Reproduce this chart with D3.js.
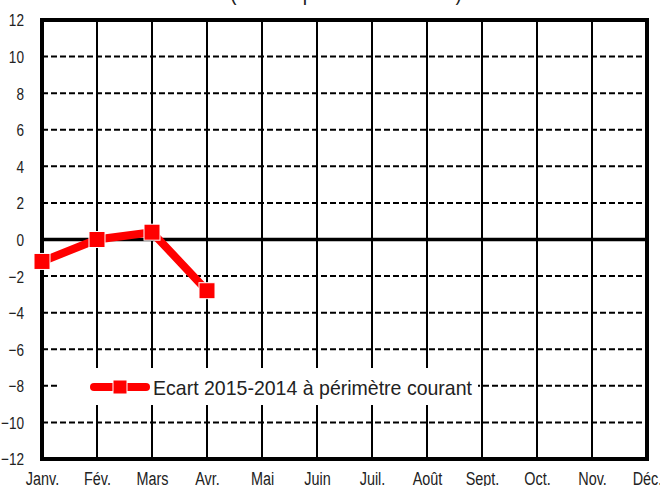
<!DOCTYPE html>
<html><head><meta charset="utf-8">
<script src="https://cdn.jsdelivr.net/npm/d3@7"></script>
<style>
html,body{margin:0;padding:0;background:#fff;overflow:hidden}
svg{display:block}
text{font-family:"Liberation Sans","Arial",sans-serif}
</style></head>
<body><div id="chart"></div>
<script>
const months = ["Janv.","Fév.","Mars","Avr.","Mai","Juin","Juil.","Août","Sept.","Oct.","Nov.","Déc."];
const ecart = [-1.2, 0.0, 0.4, -2.8];
const yTicks = [-12,-10,-8,-6,-4,-2,0,2,4,6,8,10,12];
const seriesName = "Ecart 2015-2014 à périmètre courant";
const titleText = "(en % à périmètre courant)";

const W = 660, H = 486;
const L = 42, R = 647, T = 20, B = 459;
const svg = d3.select("#chart").append("svg").attr("width", W).attr("height", H);

const x = d3.scalePoint().domain(months).range([L, R]);
const y = d3.scaleLinear().domain([-12, 12]).range([B, T]);

function narrow(sel, f) {
  sel.each(function () {
    const len = this.getComputedTextLength();
    d3.select(this).attr("textLength", len * f).attr("lengthAdjust", "spacingAndGlyphs");
  });
}

// clipped title
svg.append("text").attr("x", 230).attr("y", -0.5)
  .attr("font-size", 22).attr("fill", "#222")
  .attr("textLength", 232).attr("lengthAdjust", "spacingAndGlyphs")
  .text(titleText);

// horizontal dashed grid
svg.append("g").selectAll("line").data(yTicks.filter(v => v !== 0 && v !== 12 && v !== -12)).join("line")
  .attr("x1", L).attr("x2", R).attr("y1", d => y(d)).attr("y2", d => y(d))
  .attr("stroke", "#000").attr("stroke-width", 2).attr("stroke-dasharray", "6,3");

// vertical month lines
svg.append("g").selectAll("line").data(months.slice(1, -1)).join("line")
  .attr("x1", d => x(d)).attr("x2", d => x(d)).attr("y1", T).attr("y2", B)
  .attr("stroke", "#000").attr("stroke-width", 2);

// zero line
svg.append("line").attr("x1", L).attr("x2", R).attr("y1", y(0)).attr("y2", y(0))
  .attr("stroke", "#000").attr("stroke-width", 3.5);

// frame
svg.append("rect").attr("x", L).attr("y", y(12)).attr("width", R - L).attr("height", y(-12) - y(12))
  .attr("fill", "none").attr("stroke", "#000").attr("stroke-width", 4);

// y axis labels
const ya = svg.append("g").attr("transform", `translate(${L - 15},0)`)
  .call(d3.axisLeft(y).tickValues(yTicks).tickSize(0).tickFormat(d3.format("d")));
ya.select(".domain").remove();
ya.selectAll("text").attr("font-size", 17).attr("fill", "#222").attr("dy", "0.35em")
  .style("font-family", '"Liberation Sans",Arial,sans-serif');
narrow(ya.selectAll("text"), 0.8);

// x axis labels
const xa = svg.append("g").attr("transform", `translate(0,${B})`)
  .call(d3.axisBottom(x).tickSize(0).tickPadding(0));
xa.select(".domain").remove();
xa.selectAll("text").attr("font-size", 18).attr("fill", "#222").attr("y", 26).attr("dy", null)
  .style("font-family", '"Liberation Sans",Arial,sans-serif');
narrow(xa.selectAll("text"), 0.8);

// legend box
const lg = svg.append("g");
lg.append("rect").attr("x", 57).attr("y", 368).attr("width", 421).attr("height", 37).attr("fill", "#fff");
lg.append("line").attr("x1", 94).attr("x2", 146).attr("y1", 387).attr("y2", 387)
  .attr("stroke", "#ff0000").attr("stroke-width", 8).attr("stroke-linecap", "round");
lg.append("rect").attr("x", 113).attr("y", 380).attr("width", 14).attr("height", 14)
  .attr("fill", "#ff0000").attr("stroke", "#fff").attr("stroke-width", 1);
lg.append("text").attr("x", 153).attr("y", 395).attr("font-size", 21).attr("fill", "#222")
  .attr("textLength", 319).attr("lengthAdjust", "spacingAndGlyphs").text(seriesName);

// series line
const pts = ecart.map((v, i) => [x(months[i]), y(v)]);
svg.append("path").datum(pts).attr("d", d3.line())
  .attr("fill", "none").attr("stroke", "#ff0000").attr("stroke-width", 8);
svg.append("g").selectAll("rect").data(pts).join("rect")
  .attr("x", d => d[0] - 8).attr("y", d => d[1] - 8).attr("width", 16).attr("height", 16)
  .attr("fill", "#ff0000").attr("stroke", "#fff").attr("stroke-width", 1);
</script></body></html>
